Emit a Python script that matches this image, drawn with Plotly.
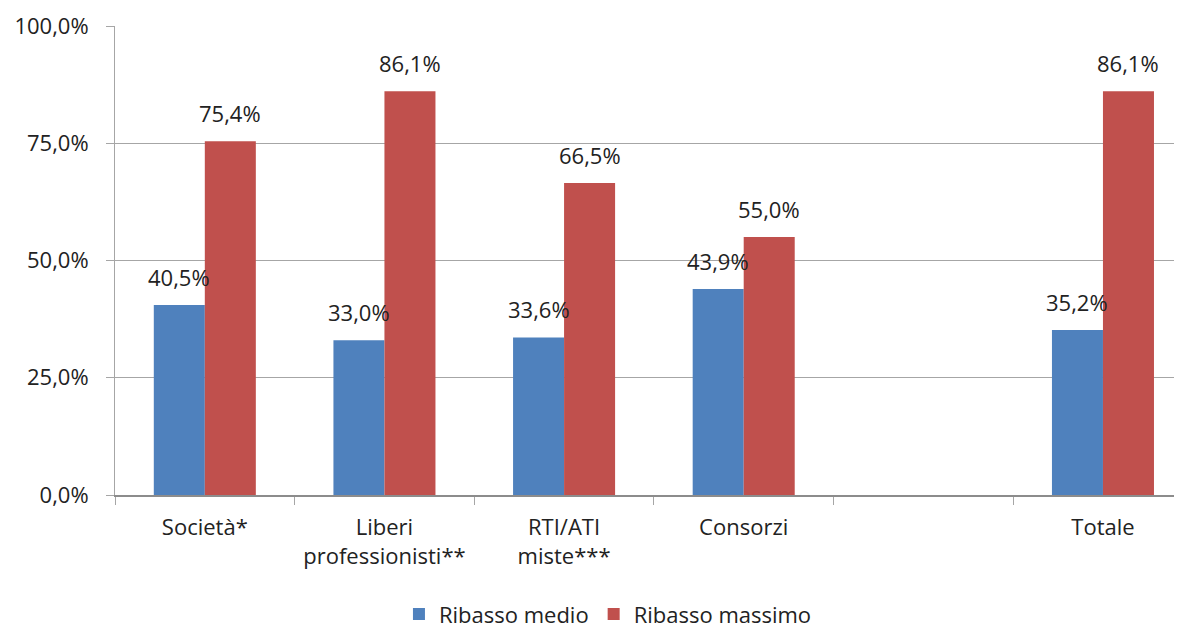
import plotly.graph_objects as go

categories = ["Società*", "Liberi<br>professionisti**", "RTI/ATI<br>miste***", "Consorzi", " ", "Totale"]
ribasso_medio = [40.5, 33.0, 33.6, 43.9, None, 35.2]
ribasso_massimo = [75.4, 86.1, 66.5, 55.0, None, 86.1]
y_ticks = [0, 25, 50, 75, 100]

BLUE = "#4F81BD"
RED = "#C0504D"
FONT = "Open Sans"
TXT = "#222222"
GRID = "#A6A6A6"
FS = 22


def fmt(v):
    return f"{v:.1f}%".replace(".", ",")


fig = go.Figure()
fig.add_trace(go.Bar(name="Ribasso medio", x=categories, y=ribasso_medio,
                     marker=dict(color=BLUE, line=dict(width=0))))
fig.add_trace(go.Bar(name="Ribasso massimo", x=categories, y=ribasso_massimo,
                     marker=dict(color=RED, line=dict(width=0))))

for vals, shift in ((ribasso_medio, -25.5), (ribasso_massimo, 25.5)):
    for c, v in zip(categories, vals):
        if v is None:
            continue
        fig.add_annotation(x=c, y=v, text=fmt(v), showarrow=False,
                           xanchor="center", yanchor="bottom",
                           xshift=shift, yshift=11,
                           font=dict(family=FONT, size=FS, color=TXT))

# page body has an 8px margin, so the figure is 8px smaller than the window
fig.update_layout(
    width=1174, height=622,
    margin=dict(l=107, r=0, t=18, b=135, autoexpand=False),
    paper_bgcolor="white", plot_bgcolor="white",
    barmode="group", bargap=0.432, bargroupgap=0,
    font=dict(family=FONT, size=FS, color=TXT),
    showlegend=True,
    legend=dict(orientation="h", x=0.462, xanchor="center", y=-0.254, yanchor="middle",
                font=dict(family=FONT, size=FS, color=TXT),
                itemwidth=30, traceorder="normal"),
    xaxis=dict(type="category", range=[-0.5, 5.44], tickson="boundaries",
               ticks="outside", ticklen=8, tickcolor=GRID,
               showline=True, linecolor="#8C8C8C", linewidth=2,
               showgrid=False, ticklabelstandoff=12, automargin=False,
               tickfont=dict(family=FONT, size=FS, color=TXT)),
    yaxis=dict(range=[0, 100], tickvals=y_ticks, ticktext=[fmt(v) for v in y_ticks],
               ticks="outside", ticklen=8, tickcolor=GRID,
               showline=True, linecolor=GRID, linewidth=1,
               showgrid=True, gridcolor=GRID, gridwidth=1,
               zeroline=False, ticklabelstandoff=13, automargin=False,
               tickfont=dict(family=FONT, size=FS, color=TXT)),
)

fig.write_html("out.html")
